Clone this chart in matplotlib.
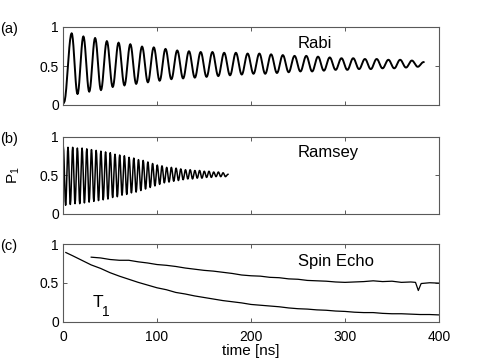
import numpy as np
import matplotlib
matplotlib.use('Agg')
import matplotlib.pyplot as plt

plt.rcParams['font.family'] = 'Liberation Sans'
plt.rcParams['mathtext.fontset'] = 'custom'
plt.rcParams['mathtext.rm'] = 'Liberation Sans'

# Rabi: extrema (period ~12.5 ns)
rabi_start = (1.0, 0.03)
rabi_first_peak = 9.2
rabi_period = 12.48
rabi_max = [0.92, 0.88, 0.86, 0.82, 0.80, 0.78, 0.75, 0.74, 0.72, 0.70, 0.69,
            0.68, 0.68, 0.67, 0.67, 0.66, 0.66, 0.65, 0.64, 0.63, 0.63, 0.62,
            0.61, 0.60, 0.60, 0.59, 0.59, 0.58, 0.58, 0.57, 0.55]
rabi_min = [0.14, 0.17, 0.19, 0.23, 0.25, 0.27, 0.29, 0.31, 0.33, 0.34, 0.35,
            0.36, 0.37, 0.38, 0.39, 0.40, 0.40, 0.41, 0.42, 0.43, 0.43, 0.44,
            0.45, 0.45, 0.46, 0.46, 0.47, 0.47, 0.48, 0.49]

# Ramsey: extrema (period ~5 ns)
ramsey_first_peak = 0.3
ramsey_period = 5.0
ramsey_end = (175.5, 0.51)
ramsey_max = [0.87, 0.86, 0.86, 0.85, 0.85, 0.84, 0.83, 0.82, 0.81, 0.80, 0.79,
              0.77, 0.76, 0.75, 0.73, 0.72, 0.70, 0.69, 0.67, 0.65, 0.63, 0.62,
              0.60, 0.60, 0.59, 0.58, 0.57, 0.57, 0.56, 0.56, 0.55, 0.55, 0.54,
              0.54, 0.53]
ramsey_min = [0.11, 0.12, 0.13, 0.13, 0.14, 0.15, 0.16, 0.17, 0.18, 0.19, 0.21,
              0.22, 0.24, 0.25, 0.27, 0.28, 0.30, 0.32, 0.34, 0.36, 0.38, 0.40,
              0.41, 0.42, 0.43, 0.44, 0.45, 0.45, 0.46, 0.46, 0.47, 0.47, 0.48,
              0.48, 0.48]

# T1 and spin echo decays
t1_time = [3] + list(range(10, 401, 10))
t1_p = [0.89, 0.85, 0.79, 0.73, 0.685, 0.63, 0.585, 0.545, 0.505, 0.47,
        0.435, 0.41, 0.375, 0.355, 0.33, 0.31, 0.29, 0.27, 0.255, 0.24,
        0.22, 0.21, 0.2, 0.19, 0.175, 0.165, 0.16, 0.15, 0.145, 0.135,
        0.13, 0.12, 0.115, 0.115, 0.105, 0.1, 0.1, 0.095, 0.09, 0.09, 0.085]
echo_time = list(range(30, 371, 10)) + [375, 378, 381, 390, 400]
echo_p = [0.83, 0.82, 0.80, 0.79, 0.79, 0.77, 0.755, 0.735, 0.725, 0.71,
          0.69, 0.675, 0.66, 0.65, 0.635, 0.62, 0.60, 0.59, 0.585, 0.57,
          0.565, 0.55, 0.545, 0.53, 0.525, 0.52, 0.51, 0.505, 0.51, 0.515,
          0.525, 0.515, 0.52, 0.505, 0.51, 0.505, 0.40, 0.49, 0.50, 0.495]


def through_extrema(tt, vv, n=10):
    # half-cosine strokes between successive extrema
    xs, ys = [], []
    for i in range(len(tt) - 1):
        s = np.linspace(0, 1, n, endpoint=False)
        xs.append(tt[i] + (tt[i + 1] - tt[i]) * s)
        ys.append(vv[i] + (vv[i + 1] - vv[i]) * (1 - np.cos(np.pi * s)) / 2)
    xs.append([tt[-1]])
    ys.append([vv[-1]])
    return np.concatenate(xs), np.concatenate(ys)


# rabi sequence
rt, rv = [rabi_start[0]], [rabi_start[1]]
for k in range(len(rabi_max)):
    rt.append(rabi_first_peak + k * rabi_period)
    rv.append(rabi_max[k])
    if k < len(rabi_min):
        rt.append(rabi_first_peak + (k + 0.5) * rabi_period)
        rv.append(rabi_min[k])
rabi_x, rabi_y = through_extrema(rt, rv)

# ramsey sequence
mt, mv = [], []
for k in range(len(ramsey_max)):
    mt.append(ramsey_first_peak + k * ramsey_period)
    mv.append(ramsey_max[k])
    mt.append(ramsey_first_peak + (k + 0.5) * ramsey_period)
    mv.append(ramsey_min[k])
mt.append(ramsey_end[0])
mv.append(ramsey_end[1])
ramsey_x, ramsey_y = through_extrema(mt, mv, n=6)

W, H = 485, 363
fig = plt.figure(figsize=(4.85, 3.63), dpi=100)
left, width = 63 / W, 376 / W
boxes = [(27, 105), (136.5, 213.7), (244, 321.5)]
axes = []
for top, bot in boxes:
    ax = fig.add_axes([left, 1 - bot / H, width, (bot - top) / H])
    ax.set_xlim(0, 400)
    ax.set_ylim(0, 1)
    ax.set_yticks([0, 0.5, 1])
    ax.set_yticklabels(['0', '0.5', '1'])
    ax.set_xticks([0, 100, 200, 300, 400])
    ax.tick_params(direction='in', top=True, right=True, length=3,
                   width=0.7, color='0.35', labelsize=10, pad=3)
    for sp in ax.spines.values():
        sp.set_color('0.35')
        sp.set_linewidth(0.8)
    axes.append(ax)

ax_a, ax_b, ax_c = axes
ax_a.tick_params(labelbottom=False)
ax_b.tick_params(labelbottom=False)
ax_c.tick_params(axis='x', pad=6)

ax_a.plot(rabi_x, rabi_y, color='black', lw=1.4)
ax_a.text(250, 0.725, 'Rabi', fontsize=12, va='baseline')

ax_b.plot(ramsey_x, ramsey_y, color='black', lw=1.1)
ax_b.text(250, 0.735, 'Ramsey', fontsize=12, va='baseline')
ax_b.text(-0.13, 0.5, r'$\mathrm{P}_1$', transform=ax_b.transAxes,
          rotation=90, ha='center', va='center', fontsize=11)

ax_c.plot(t1_time, t1_p, color='black', lw=0.9)
ax_c.plot(echo_time, echo_p, color='black', lw=0.9)
ax_c.text(250, 0.716, 'Spin Echo', fontsize=12, va='baseline')
ax_c.text(31, 0.19, 'T', fontsize=12.5, va='baseline')
ax_c.text(41, 0.07, '1', fontsize=10, va='baseline')
ax_c.set_xlabel('time [ns]', fontsize=11, labelpad=0)

for lab, (top, bot) in zip(['(a)', '(b)', '(c)'], boxes):
    fig.text(0.5 / W, 1 - (top + 2) / H, lab, fontsize=10.5, va='center')

fig.savefig('out.png', dpi=100)
